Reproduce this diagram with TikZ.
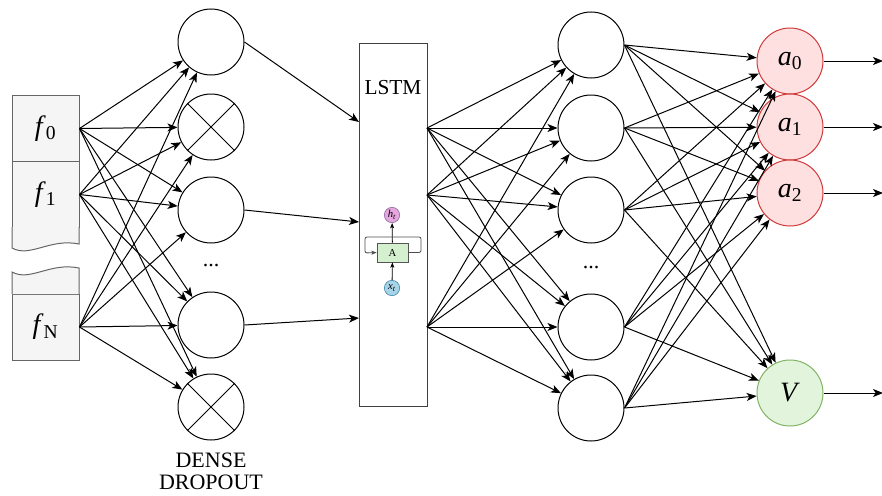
\documentclass[tikz,border=0pt]{standalone}
\usepackage{fontspec}
\setmainfont{Liberation Serif}
\usetikzlibrary{arrows.meta}
\definecolor{featline}{HTML}{666666}
\definecolor{featfill}{HTML}{F5F5F5}
\definecolor{redline}{HTML}{D03A3A}
\definecolor{redfill}{HTML}{FFE0E0}
\definecolor{grnline}{HTML}{82B366}
\definecolor{grnfill}{HTML}{E2F5DC}
\definecolor{cellfill}{HTML}{D5F0CF}
\definecolor{cellline}{HTML}{555555}
\definecolor{pinkfill}{HTML}{E6A6DE}
\definecolor{pinkline}{HTML}{9673A6}
\definecolor{bluefill}{HTML}{A8D4E8}
\definecolor{blueline}{HTML}{4A90B0}
\begin{document}
\begin{tikzpicture}[x=0.75pt,y=-0.75pt,
  neuron/.style={circle,draw=black,line width=0.75pt,minimum size=49.5pt,inner sep=0pt},
  conn/.style={-{Stealth[length=7.5pt,width=6pt,inset=2pt]},line width=0.75pt},
  small/.style={-{Stealth[length=4pt,width=3pt,inset=1pt]},line width=0.6pt},
  feat/.style={rectangle,draw=featline,fill=featfill,line width=0.75pt,minimum width=50.25pt,inner sep=0pt,font=\fontsize{21}{24}\selectfont},
  outa/.style={neuron,draw=redline,fill=redfill,font=\fontsize{21}{24}\selectfont},
  outv/.style={neuron,draw=grnline,fill=grnfill,font=\fontsize{21}{24}\selectfont},
  lbl/.style={inner sep=0pt,font=\fontsize{16.5}{18}\selectfont}]
\useasboundingbox (0,0) rectangle (882,496);

% feature column
\node[feat,minimum height=50pt] (f0) at (45.5,128.5) {\textit{f}\textsubscript{0}};
\node[feat,minimum height=49.5pt] (f1) at (45.5,194.5) {\textit{f}\textsubscript{1}};
\node[feat,minimum height=49.5pt] (fN) at (45.5,327) {\textit{f}\textsubscript{N}};
\filldraw[draw=featline,fill=featfill,line width=0.75pt]
  (12,227) -- (12,248) .. controls (30,258) and (50,238) .. (79,244) -- (79,227);
\filldraw[draw=featline,fill=featfill,line width=0.75pt]
  (12,294) -- (12,272) .. controls (30,282) and (50,262) .. (79,268) -- (79,294);

% dense / dropout column
\node[neuron] (d1) at (211,42) {};
\node[neuron] (d2) at (211,127) {};
\node[neuron] (d3) at (211,210) {};
\node[neuron] (d4) at (211,325) {};
\node[neuron] (d5) at (211,407) {};
\foreach \d in {d2,d5}
  \draw[line width=0.75pt] (\d.north west) -- (\d.south east) (\d.north east) -- (\d.south west);
\node[lbl] (dots1) at (211,266) {...};
\node[lbl] (lab1) at (211,460) {DENSE};
\node[lbl] (lab2) at (211,482) {DROPOUT};

% LSTM block
\node[rectangle,draw=black!75,line width=0.75pt,minimum width=51pt,minimum height=272.25pt,inner sep=0pt] (lstm) at (393,224.5) {};
\node[inner sep=0pt,font=\fontsize{16}{18}\selectfont] (lstmlab) at (393,88) {LSTM};
\coordinate (l1) at (359,122);
\coordinate (l2) at (359,222);
\coordinate (l3) at (359,318);
\coordinate (o1) at (427,128);
\coordinate (o2) at (427,195);
\coordinate (o3) at (427,327);
\node[rectangle,draw=cellline,fill=cellfill,line width=0.5pt,minimum width=23.25pt,minimum height=14.25pt,inner sep=0pt,font=\fontsize{8}{9}\selectfont] (cell) at (392.5,252.5) {A};
\node[circle,draw=pinkline,fill=pinkfill,line width=0.5pt,minimum size=11.5pt,inner sep=0pt,font=\fontsize{8}{9}\selectfont] (ht) at (392,215) {\textit{h}\textsubscript{\textit{t}}};
\node[circle,draw=blueline,fill=bluefill,line width=0.5pt,minimum size=11.5pt,inner sep=0pt,font=\fontsize{8}{9}\selectfont] (xt) at (392,288) {\textit{x}\textsubscript{\textit{t}}};
\draw[small] (xt) -- (cell);
\draw[small] (cell) -- (ht);
\draw[small,draw=black!70,rounded corners=1.5pt] (cell.east) -- (421,252.5) -- (421,237) -- (365,237) -- (365,253) -- (cell.west);

% second dense column
\node[neuron] (e1) at (591,45) {};
\node[neuron] (e2) at (591,128) {};
\node[neuron] (e3) at (591,210) {};
\node[neuron] (e4) at (591,327) {};
\node[neuron] (e5) at (591,408) {};
\node[lbl] (dots2) at (591,268) {...};

% outputs
\node[outa] (a0) at (790,61) {\textit{a}\textsubscript{0}};
\node[outa] (a1) at (790,127) {\textit{a}\textsubscript{1}};
\node[outa] (a2) at (790,193) {\textit{a}\textsubscript{2}};
\node[outv] (V) at (790,393) {\textit{V}};
\coordinate (r0) at (883,61);
\coordinate (r1) at (883,127);
\coordinate (r2) at (883,193);
\coordinate (rV) at (883,393);

% connectors
\foreach \s in {f0,f1,fN}
  \foreach \t in {d1,d2,d3,d4,d5}
    \draw[conn] (\s.east) -- (\t);
\draw[conn] (d1.east) -- (l1);
\draw[conn] (d3.east) -- (l2);
\draw[conn] (d4.east) -- (l3);
\foreach \s in {o1,o2,o3}
  \foreach \t in {e1,e2,e3,e4,e5}
    \draw[conn] (\s) -- (\t);
\foreach \s in {e1,e2,e3,e4,e5}
  \foreach \t in {a0,a1,a2,V}
    \draw[conn] (\s.east) -- (\t);
\draw[conn] (a0.east) -- (r0);
\draw[conn] (a1.east) -- (r1);
\draw[conn] (a2.east) -- (r2);
\draw[conn] (V.east) -- (rV);
\end{tikzpicture}
\end{document}
